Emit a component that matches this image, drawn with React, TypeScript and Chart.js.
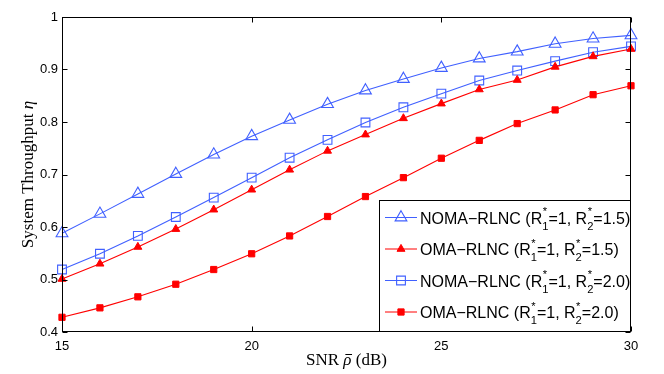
import React, { useEffect, useRef } from "react";
import { Chart, registerables } from "chart.js";
import { drawPoint } from "chart.js/helpers";

Chart.register(...registerables);

// ---- data ----
const snrDb = [15, 16, 17, 18, 19, 20, 21, 22, 23, 24, 25, 26, 27, 28, 29, 30];
const nomaR15 = [0.588, 0.625, 0.663, 0.701, 0.738, 0.773, 0.804, 0.834, 0.860, 0.882, 0.903, 0.921, 0.934, 0.949, 0.959, 0.965];
const omaR15 = [0.501, 0.530, 0.562, 0.596, 0.633, 0.671, 0.709, 0.745, 0.776, 0.807, 0.835, 0.862, 0.880, 0.905, 0.925, 0.939];
const nomaR20 = [0.519, 0.549, 0.583, 0.619, 0.656, 0.694, 0.732, 0.766, 0.799, 0.828, 0.854, 0.879, 0.898, 0.916, 0.933, 0.944];
const omaR20 = [0.428, 0.446, 0.467, 0.491, 0.519, 0.549, 0.583, 0.620, 0.658, 0.694, 0.731, 0.765, 0.797, 0.823, 0.852, 0.869];

const xTickValues = [15, 20, 25, 30];
const yTickValues = [0.4, 0.5, 0.6, 0.7, 0.8, 0.9, 1];

const seriesLabels = [
  "NOMA−RLNC (R_1^*=1, R_2^*=1.5)",
  "OMA−RLNC (R_1^*=1, R_2^*=1.5)",
  "NOMA−RLNC (R_1^*=1, R_2^*=2.0)",
  "OMA−RLNC (R_1^*=1, R_2^*=2.0)",
];
const xTitle = ["SNR ", "ρ\u0304", " (dB)"];
const yTitle = ["System Throughput ", "η"];

const BLUE = "rgb(64,96,255)";
const RED = "rgb(255,0,0)";
const SANS = "'Liberation Sans', Arial, Helvetica, sans-serif";
const SERIF = "'Liberation Serif', 'Times New Roman', serif";

function drawRich(ctx: CanvasRenderingContext2D, text: string, x: number, y: number, size: number) {
  const parts = text.split(/(_\d\^\*)/);
  let cx = x;
  ctx.textAlign = "left";
  ctx.textBaseline = "alphabetic";
  for (const p of parts) {
    if (!p) continue;
    const m = p.match(/^_(\d)\^\*$/);
    if (m) {
      ctx.font = `${size * 0.7}px ${SANS}`;
      const w1 = ctx.measureText(m[1]).width;
      const w2 = ctx.measureText("*").width;
      ctx.fillText("*", cx + 0.5, y - size * 0.52);
      ctx.fillText(m[1], cx, y + size * 0.38);
      cx += Math.max(w1, w2);
    } else {
      ctx.font = `${size}px ${SANS}`;
      ctx.fillText(p, cx, y);
      cx += ctx.measureText(p).width;
    }
  }
}

function drawMixed(ctx: CanvasRenderingContext2D, parts: string[], italicIdx: number, cx: number, y: number, size: number) {
  const fonts = parts.map((_, i) => `${i === italicIdx ? "italic " : ""}${size}px ${SERIF}`);
  const shown = parts.map((p) => p.replace("\u0304", ""));
  let total = 0;
  const widths = shown.map((p, i) => {
    ctx.font = fonts[i];
    const w = ctx.measureText(p).width + (parts[i] !== p ? 0 : 0);
    total += w;
    return w;
  });
  let x = cx - total / 2;
  ctx.textAlign = "left";
  ctx.textBaseline = "alphabetic";
  shown.forEach((p, i) => {
    ctx.font = fonts[i];
    ctx.fillText(p, x, y);
    if (parts[i] !== p) {
      // macron over the symbol
      ctx.save();
      ctx.strokeStyle = ctx.fillStyle as string;
      ctx.lineWidth = 1;
      ctx.beginPath();
      const by = Math.round(y - size * 0.62) + 0.5;
      ctx.moveTo(x + 2, by);
      ctx.lineTo(x + widths[i] + 0.5, by);
      ctx.stroke();
      ctx.restore();
    }
    x += widths[i];
  });
}

const framePlugin = {
  id: "frame",
  afterDatasetsDraw(chart: any) {
    const { ctx, chartArea: a, scales } = chart;
    const L = Math.round(a.left) + 0.5;
    const R = Math.round(a.right) - 0.5;
    const T = Math.round(a.top) + 0.5;
    const B = Math.round(a.bottom) - 0.5;
    ctx.save();
    ctx.strokeStyle = "#000";
    ctx.lineWidth = 1;
    ctx.beginPath();
    const tl = 5;
    for (const v of xTickValues) {
      const px = Math.round(scales.x.getPixelForValue(v)) + 0.5;
      ctx.moveTo(px, B);
      ctx.lineTo(px, B - tl);
      ctx.moveTo(px, T);
      ctx.lineTo(px, T + tl);
    }
    for (const v of yTickValues) {
      const py = Math.round(scales.y.getPixelForValue(v)) + 0.5;
      ctx.moveTo(L, py);
      ctx.lineTo(L + tl, py);
      ctx.moveTo(R, py);
      ctx.lineTo(R - tl, py);
    }
    ctx.stroke();
    ctx.strokeRect(L, T, R - L, B - T);

    // legend
    const lw = 252;
    const lh = 132;
    const lx = Math.round(a.right) - lw;
    const ly = Math.round(a.bottom) - lh;
    ctx.fillStyle = "#fff";
    ctx.fillRect(lx, ly, lw, lh);
    ctx.strokeStyle = "#000";
    ctx.strokeRect(lx + 0.5, ly + 0.5, lw - 1, lh - 1);
    chart.data.datasets.forEach((ds: any, i: number) => {
      const yy = ly + 17.5 + i * 31.5;
      ctx.strokeStyle = ds.borderColor;
      ctx.lineWidth = 1;
      ctx.beginPath();
      ctx.moveTo(lx + 6, yy);
      ctx.lineTo(lx + 38, yy);
      ctx.stroke();
      ctx.fillStyle = ds.pointBackgroundColor;
      ctx.strokeStyle = ds.borderColor;
      ctx.lineWidth = ds.pointBorderWidth;
      drawPoint(ctx, { pointStyle: ds.pointStyle, radius: ds.pointRadius, rotation: 0, borderWidth: ds.pointBorderWidth } as any, lx + 22, yy);
      ctx.fillStyle = "#000";
      drawRich(ctx, ds.label, lx + 41, yy + 6, 16);
    });

    // axis titles
    ctx.fillStyle = "#000";
    drawMixed(ctx, xTitle, 1, (a.left + a.right) / 2, 365, 17);
    ctx.save();
    ctx.translate(33, (a.top + a.bottom) / 2);
    ctx.rotate(-Math.PI / 2);
    drawMixed(ctx, yTitle, 1, 0, 0, 17);
    ctx.restore();
    ctx.restore();
  },
};

export default function App() {
  const ref = useRef<HTMLCanvasElement | null>(null);
  useEffect(() => {
    if (!ref.current) return;
    const mk = (arr: number[]) => snrDb.map((x, i) => ({ x, y: arr[i] }));
    const chart = new Chart(ref.current, {
      type: "line",
      data: {
        datasets: [
          {
            label: seriesLabels[0],
            data: mk(nomaR15),
            borderColor: BLUE,
            backgroundColor: BLUE,
            pointStyle: "triangle",
            pointRadius: 6.8,
            pointBackgroundColor: "rgba(0,0,0,0)",
            pointBorderColor: BLUE,
            pointBorderWidth: 1.1,
            borderWidth: 1.1,
            clip: false,
          },
          {
            label: seriesLabels[1],
            data: mk(omaR15),
            borderColor: RED,
            backgroundColor: RED,
            pointStyle: "triangle",
            pointRadius: 4.6,
            pointBackgroundColor: RED,
            pointBorderColor: RED,
            pointBorderWidth: 1,
            borderWidth: 1.1,
            clip: false,
          },
          {
            label: seriesLabels[2],
            data: mk(nomaR20),
            borderColor: BLUE,
            backgroundColor: BLUE,
            pointStyle: "rect",
            pointRadius: 6.2,
            pointBackgroundColor: "rgba(0,0,0,0)",
            pointBorderColor: BLUE,
            pointBorderWidth: 1.1,
            borderWidth: 1.1,
            clip: false,
          },
          {
            label: seriesLabels[3],
            data: mk(omaR20),
            borderColor: RED,
            backgroundColor: RED,
            pointStyle: "rect",
            pointRadius: 4.4,
            pointBackgroundColor: RED,
            pointBorderColor: RED,
            pointBorderWidth: 1,
            borderWidth: 1.1,
            clip: false,
          },
        ],
      } as any,
      options: {
        animation: false,
        responsive: false,
        devicePixelRatio: 1,
        layout: { padding: { top: 17, right: 33, left: 0, bottom: 0 } },
        plugins: { legend: { display: false }, tooltip: { enabled: false } },
        elements: { line: { tension: 0 } },
        scales: {
          x: {
            type: "linear",
            min: 15,
            max: 30,
            afterBuildTicks: (s: any) => {
              s.ticks = xTickValues.map((v) => ({ value: v }));
            },
            afterFit: (s: any) => {
              s.height = 42;
            },
            grid: { display: false, drawTicks: false },
            border: { display: false },
            ticks: {
              color: "#000",
              padding: 7,
              maxRotation: 0,
              autoSkip: false,
              font: { family: SANS, size: 13 },
            },
          },
          y: {
            type: "linear",
            min: 0.4,
            max: 1,
            afterBuildTicks: (s: any) => {
              s.ticks = yTickValues.map((v) => ({ value: v }));
            },
            afterFit: (s: any) => {
              s.width = 62;
            },
            grid: { display: false, drawTicks: false },
            border: { display: false },
            ticks: {
              color: "#000",
              padding: 4,
              autoSkip: false,
              font: { family: SANS, size: 13 },
              callback: (v: any) => (Number(v) === 1 ? "1" : Number(v).toFixed(1)),
            },
          },
        },
      } as any,
      plugins: [framePlugin],
    });
    return () => chart.destroy();
  }, []);
  return (
    <div style={{ position: "fixed", left: 0, top: 0, width: 664, height: 374, background: "#fff" }}>
      <canvas ref={ref} width={664} height={374} style={{ display: "block" }} />
    </div>
  );
}
